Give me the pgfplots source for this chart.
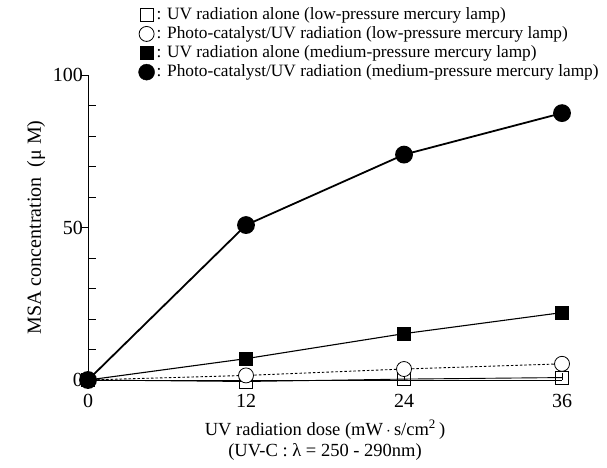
\documentclass[border=0pt]{standalone}
\usepackage{fontspec}
\setmainfont{Liberation Serif}
\usepackage{pgfplots}
\pgfplotsset{compat=1.18}
\begin{document}
\fontsize{17.5bp}{20bp}\selectfont
\begin{tikzpicture}
\begin{axis}[
  width=474bp, height=305bp, scale only axis,
  axis lines=left,
  axis line style={-, line width=0.9bp},
  xmin=0, xmax=36, ymin=0, ymax=100,
  xtick={0,12,24,36},
  ytick={0,50,100},
  minor ytick={10,20,30,40,60,70,80,90},
  tick align=inside,
  major tick length=7bp,
  minor tick length=8bp,
  major y tick style={xshift=-7bp},
  tick style={line width=0.9bp, black},
  /pgf/number format/assume math mode=true,
  tick label style={font=\fontsize{20bp}{22bp}\selectfont},
  xticklabel style={yshift=-8bp},
  yticklabel style={xshift=1bp},
  clip=false,
  xlabel={UV radiation dose (mW\,$\cdot$\,s/cm\textsuperscript{2}\,)\\(UV-C : λ = 250 - 290nm)},
  xlabel style={align=center, font=\fontsize{18.5bp}{21bp}\selectfont, yshift=-1bp},
  ylabel={MSA concentration\ \ (μ M)},
  ylabel style={font=\fontsize{20bp}{22bp}\selectfont, yshift=-4bp},
  legend style={draw=none, fill=none, at={(rel axis cs:0.1,1.235)}, anchor=north west,
    font=\fontsize{17.3bp}{20bp}\selectfont, row sep=0.5bp,
    /tikz/every even column/.append style={column sep=0bp}},
  legend cell align=left,
]
% legend images (markers only)
\addlegendimage{only marks, mark=square, mark size=6.5bp, mark options={line width=0.8bp, fill=white}}
\addlegendentry{: UV radiation alone (low-pressure mercury lamp)}
\addlegendimage{only marks, mark=*, mark size=7.5bp, mark options={line width=0.8bp, fill=white}}
\addlegendentry{: Photo-catalyst/UV radiation (low-pressure mercury lamp)}
\addlegendimage{only marks, mark=square*, mark size=6.5bp}
\addlegendentry{: UV radiation alone (medium-pressure mercury lamp)}
\addlegendimage{only marks, mark=*, mark size=8bp}
\addlegendentry{: Photo-catalyst/UV radiation (medium-pressure mercury lamp)}

% UV alone, low-pressure
\addplot[forget plot, black, line width=0.9bp, mark=square, mark size=6.5bp,
  mark options={fill=white, line width=0.8bp}]
  coordinates {(0,0) (12,-0.5) (24,0.3) (36,0.8)};
% photo-catalyst, low-pressure
\addplot[forget plot, black, line width=0.9bp, dash pattern=on 2.5bp off 2bp, mark=*, mark size=7.5bp,
  mark options={solid, fill=white, line width=0.8bp}]
  coordinates {(0,0) (12,1.5) (24,3.6) (36,5.3)};
% UV alone, medium-pressure
\addplot[forget plot, black, line width=1.1bp, mark=square*, mark size=6.5bp]
  coordinates {(0,0) (12,7) (24,15.2) (36,22.1)};
% photo-catalyst, medium-pressure
\addplot[forget plot, black, line width=1.8bp, mark=*, mark size=8bp]
  coordinates {(0,0) (12,50.8) (24,73.9) (36,87.5)};

\path (rel axis cs:-0.1857,-0.2885) rectangle (rel axis cs:1.0949,1.2459);
\end{axis}
\end{tikzpicture}
\end{document}
